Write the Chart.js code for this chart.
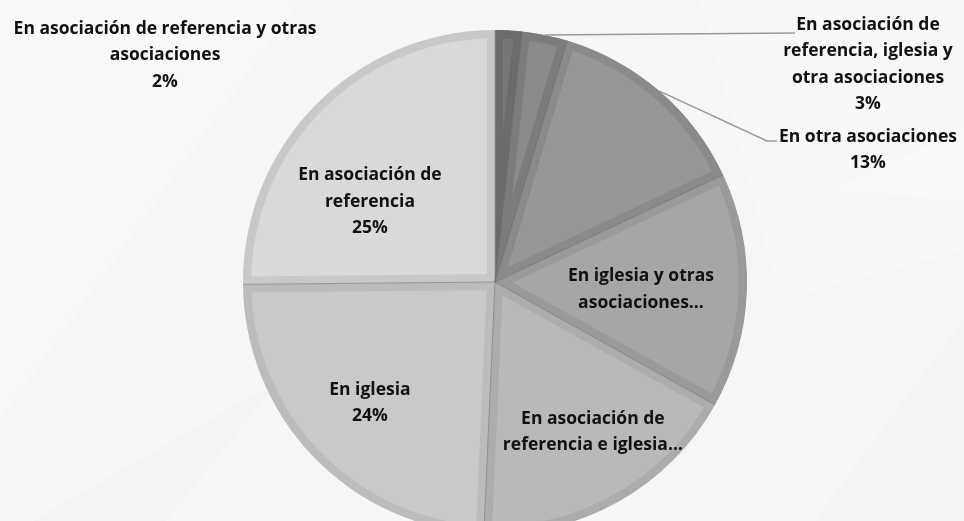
<!DOCTYPE html>
<html>
<head>
<meta charset="utf-8">
<script src="https://cdn.jsdelivr.net/npm/chart.js@4/dist/chart.umd.min.js"></script>
<style>
    html, body { margin: 0; padding: 0; overflow: hidden; background: #f7f7f7; }
    #wrap { width: 964px; height: 540px; }
</style>
</head>
<body>
<div id="wrap"><canvas id="myChart" width="964" height="540"></canvas></div>
<script>
// categories, clockwise from 12 o'clock
const categories = [
    "En asociación de referencia y otras asociaciones",
    "En asociación de referencia, iglesia y otra asociaciones",
    "En otra asociaciones",
    "En iglesia y otras asociaciones",
    "En asociación de referencia e iglesia",
    "En iglesia",
    "En asociación de referencia",
];
const values = [1.7, 2.9, 13.3, 15, 17.5, 24, 25];
// how each label is broken into lines (as shown on the chart)
const labelLines = [
    ["En asociación de referencia y otras", "asociaciones"],
    ["En asociación de", "referencia, iglesia y", "otra asociaciones"],
    ["En otra asociaciones"],
    ["En iglesia y otras", "asociaciones…"],
    ["En asociación de", "referencia e iglesia…"],
    ["En iglesia"],
    ["En asociación de", "referencia"],
];
const showPercent = [true, true, true, false, false, true, true];

const fills = ["#777777", "#8a8a8a", "#979797", "#a6a6a6", "#b9b9b9", "#c9c9c9", "#d9d9d9"];
const borders = ["#6b6b6b", "#7c7c7c", "#8a8a8a", "#9a9a9a", "#acacac", "#bcbcbc", "#c8c8c8"];

// label placement: inside ones relative to slice, outside ones anchored
const layout = [
    { x: 165, y: 29 },
    { x: 868, y: 25, lead: [[795, 33]] },
    { x: 868, y: 137, lead: [[767, 141], [777, 141]] },
    { f: 0.58, da: 1 },
    { f: 0.71, da: -4 },
    { f: 0.69, da: 0 },
    { f: 0.59, da: -12 },
];

const bgPlugin = {
    id: "bg",
    beforeDraw(chart) {
        const c = chart.ctx;
        c.save();
        c.fillStyle = "#f6f6f6";
        c.fillRect(0, 0, chart.width, chart.height);
        const shapes = [
            ["#f9f9f9", [[0, 0], [300, 0], [0, 420]]],
            ["#f3f3f3", [[0, 540], [280, 380], [150, 540]]],
            ["#f8f8f8", [[700, 0], [964, 0], [964, 250], [780, 300]]],
            ["#f3f3f3", [[964, 320], [800, 540], [964, 540]]],
            ["#fafafa", [[830, 190], [964, 130], [964, 200]]],
        ];
        shapes.forEach(([col, pts]) => {
            c.fillStyle = col;
            c.beginPath();
            pts.forEach((p, i) => (i ? c.lineTo(p[0], p[1]) : c.moveTo(p[0], p[1])));
            c.closePath();
            c.fill();
        });
        c.restore();
    },
};

const labelPlugin = {
    id: "pieLabels",
    afterDatasetsDraw(chart) {
        const c = chart.ctx;
        const arcs = chart.getDatasetMeta(0).data;
        const total = values.reduce((a, b) => a + b, 0);
        c.save();
        // thin seams between slices
        c.strokeStyle = "rgba(90,90,90,0.45)";
        c.lineWidth = 1;
        arcs.forEach((arc) => {
            const { x, y, startAngle, outerRadius } = arc.getProps(["x", "y", "startAngle", "outerRadius"], true);
            c.beginPath();
            c.moveTo(x, y);
            c.lineTo(x + Math.cos(startAngle) * outerRadius, y + Math.sin(startAngle) * outerRadius);
            c.stroke();
        });

        c.font = "bold 17.5px 'Open Sans'";
        c.textAlign = "center";
        c.textBaseline = "middle";
        const lh = 26.5;
        arcs.forEach((arc, i) => {
            const p = arc.getProps(["x", "y", "startAngle", "endAngle", "outerRadius"], true);
            const mid = (p.startAngle + p.endAngle) / 2;
            const lines = labelLines[i].slice();
            if (showPercent[i]) lines.push(Math.round((values[i] / total) * 100) + "%");
            const L = layout[i];
            let cx, top;
            if (L.f !== undefined) {
                const a = mid + (L.da * Math.PI) / 180;
                cx = p.x + Math.cos(a) * p.outerRadius * L.f;
                const cy = p.y + Math.sin(a) * p.outerRadius * L.f;
                top = cy - ((lines.length - 1) * lh) / 2;
            } else {
                cx = L.x;
                top = L.y;
                if (L.lead) {
                    c.strokeStyle = "#9a9a9a";
                    c.lineWidth = 1.5;
                    c.beginPath();
                    c.moveTo(p.x + Math.cos(mid) * p.outerRadius, p.y + Math.sin(mid) * p.outerRadius);
                    L.lead.forEach((q) => c.lineTo(q[0], q[1]));
                    c.stroke();
                }
            }
            c.fillStyle = "#111111";
            lines.forEach((t, k) => c.fillText(t, cx, top + k * lh));
        });
        c.restore();
    },
};

const ctx = document.getElementById("myChart");
const chart = new Chart(ctx, {
    type: "pie",
    data: {
        labels: categories,
        datasets: [
            {
                data: values,
                backgroundColor: fills,
                borderColor: borders,
                borderWidth: 8,
                borderAlign: "inner",
            },
        ],
    },
    options: {
        responsive: false,
        animation: false,
        layout: { padding: { top: 30, bottom: 6, left: 26, right: 0 } },
        plugins: {
            legend: { display: false },
            tooltip: { enabled: false },
        },
    },
    plugins: [bgPlugin, labelPlugin],
});
</script>
</body>
</html>
